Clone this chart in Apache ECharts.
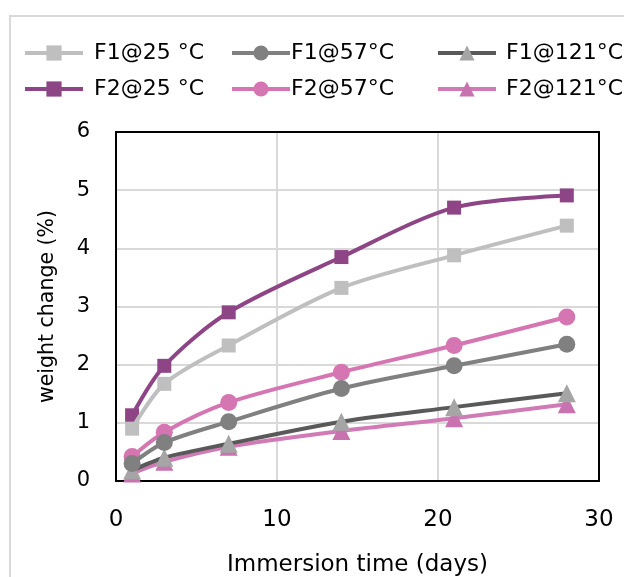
<!DOCTYPE html>
<html><head><meta charset="utf-8">
<script src="https://cdn.jsdelivr.net/npm/echarts@6/dist/echarts.min.js"></script>
<style>html,body{margin:0;padding:0;background:#fff}#c{width:624px;height:577px;position:relative}
#frame{position:absolute;left:9px;top:15px;width:640px;height:600px;border:2px solid #D9D9D9;box-sizing:border-box;pointer-events:none}</style>
</head><body><div id="c"></div>
<script>
const days = [1, 3, 7, 14, 21, 28];
const seriesNames = ['F1@25 °C', 'F1@57°C', 'F1@121°C', 'F2@25 °C', 'F2@57°C', 'F2@121°C'];
const f1_25 = [0.90, 1.67, 2.33, 3.32, 3.88, 4.39];
const f1_57 = [0.30, 0.66, 1.02, 1.59, 1.98, 2.35];
const f1_121 = [0.18, 0.40, 0.64, 1.02, 1.27, 1.51];
const f2_25 = [1.13, 1.98, 2.90, 3.85, 4.70, 4.91];
const f2_57 = [0.42, 0.84, 1.35, 1.87, 2.33, 2.82];
const f2_121 = [0.13, 0.33, 0.59, 0.86, 1.08, 1.32];
const xTicks = [0, 10, 20, 30];
const yTicks = [0, 1, 2, 3, 4, 5, 6];

const values = [f1_25, f1_57, f1_121, f2_25, f2_57, f2_121];
const lineColors = ['#BFBFBF', '#808080', '#595959', '#8E4585', '#D575B1', '#D17BB6'];
const markColors = ['#BFBFBF', '#808080', '#A5A5A5', '#8E4585', '#D575B1', '#C872B0'];
const symbols = ['rect', 'circle', 'triangle', 'rect', 'circle', 'triangle'];
const symSizes = [14, 17, 18, 14, 17, 18];
const font = '"DejaVu Sans", sans-serif';

const chart = echarts.init(document.getElementById('c'));
const legendPos = [[23, 42], [230, 42], [436, 42], [23, 78], [230, 78], [436, 78]];
const legendPad = [6, -4, 5, 6, -4, 5];
const legends = seriesNames.map((n, i) => ({
  data: [n], left: legendPos[i][0], top: legendPos[i][1], padding: 0,
  itemWidth: 58, itemHeight: 19,
  lineStyle: { width: 4 },
  textStyle: { fontSize: 22, color: '#000', fontFamily: font, padding: [0, 0, 0, legendPad[i]] }
}));
const axisLabelBase = { color: '#000', fontFamily: font };
const frameLine = { show: true, onZero: false, lineStyle: { color: '#000', width: 2 } };
chart.setOption({
  animation: false,
  legend: legends,
  grid: { left: 116, right: 25, top: 132, bottom: 96, containLabel: false, outerBoundsMode: 'none' },
  xAxis: [{
    type: 'value', min: xTicks[0], max: xTicks[xTicks.length - 1], interval: 10,
    name: 'Immersion time (days)', nameLocation: 'middle', nameGap: 73,
    nameTextStyle: { fontSize: 23, color: '#000', fontFamily: font },
    axisLine: frameLine, axisTick: { show: false },
    axisLabel: Object.assign({ fontSize: 23, margin: 28 }, axisLabelBase),
    splitLine: { show: true, showMinLine: false, showMaxLine: false, lineStyle: { color: '#D9D9D9', width: 2 } }
  }, {
    type: 'value', position: 'top', min: xTicks[0], max: xTicks[xTicks.length - 1], interval: 10,
    axisLine: frameLine, axisTick: { show: false },
    axisLabel: { show: false }, splitLine: { show: false }
  }],
  yAxis: [{
    type: 'value', min: yTicks[0], max: yTicks[yTicks.length - 1], interval: 1,
    name: 'weight change (%)', nameLocation: 'middle', nameGap: 58,
    nameTextStyle: { fontSize: 20.5, color: '#000', fontFamily: font },
    axisLine: frameLine, axisTick: { show: false },
    axisLabel: Object.assign({ fontSize: 21, margin: 26 }, axisLabelBase),
    splitLine: { show: true, showMinLine: false, showMaxLine: false, lineStyle: { color: '#D9D9D9', width: 2 } }
  }, {
    type: 'value', position: 'right', min: yTicks[0], max: yTicks[yTicks.length - 1], interval: 1,
    axisLine: frameLine, axisTick: { show: false },
    axisLabel: { show: false }, splitLine: { show: false }
  }],
  series: seriesNames.map((n, i) => ({
    name: n, type: 'line', smooth: 0.3,
    data: days.map((d, j) => [d, values[i][j]]),
    symbol: symbols[i], symbolSize: symSizes[i],
    lineStyle: { color: lineColors[i], width: 4 },
    itemStyle: { color: markColors[i] },
    z: 10 - i
  }))
});
</script>
<div id="frame"></div>
</body></html>
